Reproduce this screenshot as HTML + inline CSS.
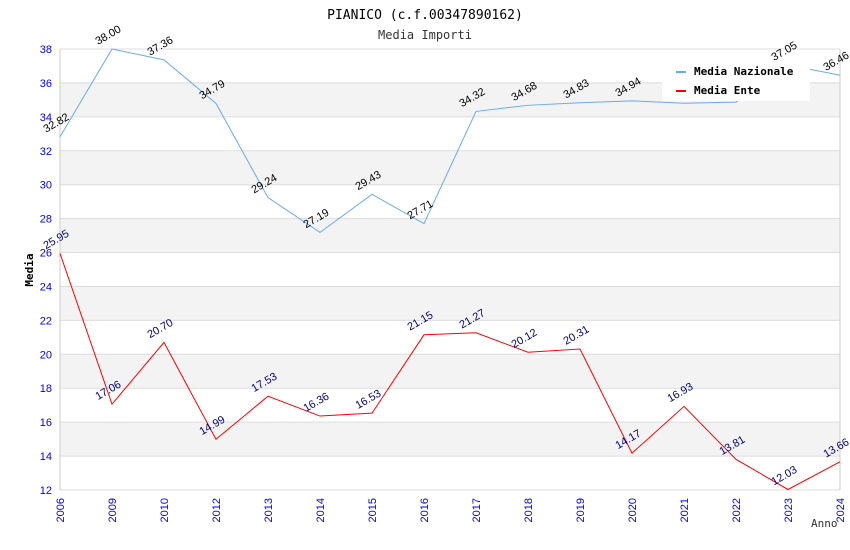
<!DOCTYPE html>
<html><head><meta charset="utf-8"><style>
body{margin:0;background:#fff}
svg{display:block}
text{font-family:"Liberation Sans",sans-serif}
.mono{font-family:"DejaVu Sans Mono","Liberation Mono",monospace}
</style></head><body>
<svg id="c" width="850" height="550">
<text class="mono" x="425" y="19" text-anchor="middle" font-size="13" fill="#000">PIANICO (c.f.00347890162)</text>
<text class="mono" x="425" y="39" text-anchor="middle" font-size="12" fill="#333">Media Importi</text>
<g id="bands"></g><g id="grid"></g><g id="axes"></g><g id="series"></g><g id="labels"></g>
<g>
<rect x="662" y="60" width="148" height="41" fill="#fff"/>
<line x1="676" y1="72" x2="686" y2="72" stroke="#6aaaf0" stroke-width="2"/>
<text class="mono" x="694" y="75" font-size="11" font-weight="bold">Media Nazionale</text>
<line x1="676" y1="91" x2="686" y2="91" stroke="#f00" stroke-width="2"/>
<text class="mono" x="694" y="94" font-size="11" font-weight="bold">Media Ente</text>
</g>
<text class="mono" x="33" y="270" font-size="11" font-weight="bold" transform="rotate(-90 33 270)" text-anchor="middle">Media</text>
<text class="mono" x="811" y="527" font-size="11" fill="#333">Anno</text>
</svg>
<script>
const categories=["2006","2009","2010","2012","2013","2014","2015","2016","2017","2018","2019","2020","2021","2022","2023","2024"];
const nazionale=[32.82,38.00,37.36,34.79,29.24,27.19,29.43,27.71,34.32,34.68,34.83,34.94,34.80,34.87,37.05,36.46];
const ente=[25.95,17.06,20.70,14.99,17.53,16.36,16.53,21.15,21.27,20.12,20.31,14.17,16.93,13.81,12.03,13.66];
const yTicks=[12,14,16,18,20,22,24,26,28,30,32,34,36,38];
const NS="http://www.w3.org/2000/svg";
const L=60,R=840,T=49,B=490,yMin=12,yMax=38;
const x=i=>L+i*(R-L)/(categories.length-1);
const y=v=>B-(v-yMin)/(yMax-yMin)*(B-T);
function mk(p,tag,a){const e=document.createElementNS(NS,tag);for(const k in a)e.setAttribute(k,a[k]);document.getElementById(p).appendChild(e);return e;}
for(let i=0;i<yTicks.length-1;i++){
  const v=yTicks[i];
  if(v%4===2){const r=mk('bands','rect',{x:L,y:y(v+2),width:R-L,height:y(v)-y(v+2),fill:'#f3f3f3'});
  
  }
}
yTicks.forEach(v=>{
  const g=mk('grid','line',{x1:L,x2:R,y1:y(v),y2:y(v),stroke:'#ddd'});
  
  
  const t=mk('axes','text',{x:L-8,y:y(v)+4,'text-anchor':'end','font-size':11,fill:'#00f'});
  t.textContent=v;
  
  
});
mk('axes','line',{x1:L,x2:L,y1:T,y2:B,stroke:'#ccc'});
mk('axes','line',{x1:R,x2:R,y1:T,y2:B,stroke:'#ccc'});
categories.forEach((c,i)=>{
  const t=mk('axes','text',{x:x(i)+4,y:B+8,'text-anchor':'end','font-size':11,fill:'#00f',transform:`rotate(-90 ${x(i)+4} ${B+8})`});
  t.textContent=c;
  
  
});
function series(data,color,lc,name){
  const p=mk('series','polyline',{points:data.map((v,i)=>x(i)+','+y(v)).join(' '),fill:'none',stroke:color,'stroke-width':1});
  
  
  data.forEach((v,i)=>{
    const px=x(i)-14,py=y(v)-4;
    const t=mk('labels','text',{x:px,y:py,'font-size':11,fill:lc,transform:`rotate(-30 ${px} ${py})`});
    t.textContent=v.toFixed(2);
    
    
  });
}
series(nazionale,'#6aaaf0','#000','nazionale');
series(ente,'#f00','#000080','ente');
</script>
</body></html>
